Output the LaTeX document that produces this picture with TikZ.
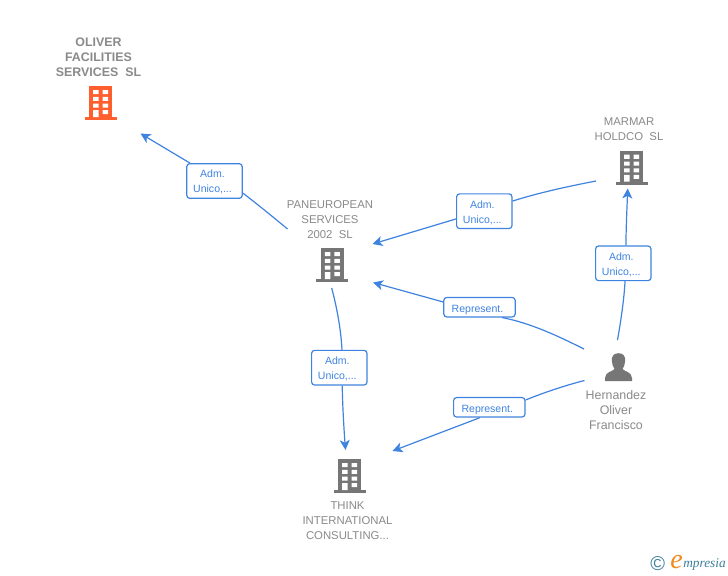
\documentclass[tikz,border=0pt]{standalone}
\usepackage{fontspec}
\setmainfont{Liberation Sans}
\newfontfamily\logofont{Liberation Serif}
\usetikzlibrary{arrows.meta,backgrounds}
\definecolor{linkblue}{HTML}{3F83E0}
\definecolor{labelgrey}{HTML}{8A8A8A}
\definecolor{icongrey}{HTML}{767676}
\definecolor{iconorange}{HTML}{FF5F2E}
\definecolor{logoteal}{HTML}{3F7F9A}
\definecolor{logoorange}{HTML}{F08A1C}
\newcommand{\boxline}[1]{\raisebox{-1pt}[\height][\depth]{\hspace*{-3pt}#1}}
\newcommand{\repline}[1]{\raisebox{-2pt}[\height][\depth]{\hspace*{-3pt}#1}}
\tikzset{
  x=0.75pt,y=-0.75pt,
  linkbox/.style={draw=linkblue,fill=white,line width=0.9pt,rounded corners=2.2pt,inner sep=0pt,align=center,
    text=linkblue,font=\fontsize{7.9pt}{11.25pt}\selectfont},
  admbox/.style={linkbox,minimum width=41.5pt,minimum height=26pt},
  repbox/.style={linkbox,minimum width=53.5pt,minimum height=14.6pt},
  entity/.style={align=center,text=labelgrey,inner sep=0pt,font=\fontsize{8.5pt}{11.25pt}\selectfont},
  company/.style={entity,font=\fontsize{9.3pt}{11.25pt}\selectfont\bfseries},
  person/.style={entity,font=\fontsize{9.3pt}{11.25pt}\selectfont},
  link/.style={draw=linkblue,line width=0.9pt},
  linkarrow/.style={link,-{Stealth[length=7.5pt,width=7.5pt,inset=2pt]}}
}
\newcommand{\buildingicon}[4]{% name, cx, top, colour
  \begin{scope}[shift={(#2,#3)}]
    \coordinate (#1) at (0,15);
    \fill[#4] (-11.3,0) rectangle (11.3,31.5);
    \fill[#4] (-16,31) rectangle (16,34);
    \fill[white] (-7.5,4) rectangle (-2,8.2) (2,4) rectangle (7.5,8.2)
      (-7.5,10.8) rectangle (-2,14.8) (2,10.8) rectangle (7.5,14.8)
      (-7.5,17.6) rectangle (-2,21.6) (2,17.6) rectangle (7.5,21.6)
      (-7.5,24.2) rectangle (-2,31) (2,24.2) rectangle (7.5,28.2);
  \end{scope}}
\begin{document}
\begin{tikzpicture}
\useasboundingbox (0,0) rectangle (728,575);
\begin{pgfonlayer}{background}
  \fill[white] (0,0) rectangle (728,575);
\end{pgfonlayer}

% entities
\node[company] (oliver) at (98.5,57.5) {OLIVER\\FACILITIES\\SERVICES\ \ SL};
\node[entity] (marmar) at (629,129.5) {MARMAR\\HOLDCO\ \ SL};
\node[entity] (pan) at (330,219.5) {PANEUROPEAN\\SERVICES\\2002\ \ SL};
\node[entity] (think) at (347.5,520.5) {THINK\\INTERNATIONAL\\CONSULTING...};
\node[person] (hern) at (616,410) {Hernandez\\Oliver\\Francisco};

\buildingicon{iconoliver}{100.5}{86}{iconorange}
\buildingicon{iconpan}{332.4}{248}{icongrey}
\buildingicon{iconmarmar}{631.7}{150.7}{icongrey}
\buildingicon{iconthink}{349.5}{459}{icongrey}

% person icon
\fill[icongrey] (618.5,353.2) .. controls (613.5,353.2) and (611.6,356.5) .. (611.8,360.5)
  .. controls (612,364) and (613,367) .. (614.5,369)
  .. controls (612,372) and (605.5,371.5) .. (605,378) -- (605,381) -- (632,381) -- (632,378)
  .. controls (631.5,371.5) and (625,372) .. (622.5,369)
  .. controls (624,367) and (625,364) .. (625.2,360.5)
  .. controls (625.4,356.5) and (623.5,353.2) .. (618.5,353.2) -- cycle;

% relation labels
\node[admbox] (b1) at (214.5,181) {\boxline{Adm.}\\\boxline{Unico,...}};
\node[admbox] (b2) at (484.3,211.2) {\boxline{Adm.}\\\boxline{Unico,...}};
\node[repbox] (b3) at (479.5,307.2) {\repline{Represent.}};
\node[admbox] (b4) at (339.3,367.7) {\boxline{Adm.}\\\boxline{Unico,...}};
\node[admbox] (b5) at (623.3,263.3) {\boxline{Adm.}\\\boxline{Unico,...}};
\node[repbox] (b6) at (489.3,407.3) {\repline{Represent.}};

% free ends
\coordinate (s1) at (287.5,229);
\coordinate (e1) at (140.5,133.5);
\coordinate (s2) at (596,181);
\coordinate (e2) at (372.5,244);
\coordinate (s3) at (584,349);
\coordinate (e3) at (373,282.5);
\coordinate (s4) at (331.7,288);
\coordinate (e4) at (345.5,450);
\coordinate (s5) at (617.5,340);
\coordinate (e5) at (627.7,188.5);
\coordinate (s6) at (584.5,380.5);
\coordinate (e6) at (392.5,451);

\begin{pgfonlayer}{background}
  \draw[link] (s1) .. controls (272,216) and (257,204) .. ([yshift=-9pt]b1.east);
  \draw[linkarrow] ([xshift=-18.4pt]b1.north) .. controls (173,153) and (158,144) .. (e1);
  \draw[link] (s2) .. controls (565,187) and (538,193) .. ([yshift=7.6pt]b2.east);
  \draw[linkarrow] ([yshift=-5.8pt]b2.west) -- (e2);
  \draw[link] (s3) .. controls (556,335) and (530,323) .. ([xshift=16.9pt]b3.south);
  \draw[linkarrow] ([yshift=3.9pt]b3.west) -- (e3);
  \draw[link] (s4) .. controls (337,308) and (341,330) .. ([xshift=2pt]b4.north);
  \draw[linkarrow] ([xshift=2.2pt]b4.south) .. controls (342.5,405) and (344,430) .. (e4);
  \draw[link] (s5) .. controls (621,320) and (624,300) .. ([xshift=1.3pt]b5.south);
  \draw[linkarrow] ([xshift=2pt]b5.north) .. controls (626,228) and (627,208) .. (e5);
  \draw[link] (s6) .. controls (563,386) and (543,393) .. ([yshift=5.5pt]b6.east);
  \draw[linkarrow] ([xshift=-7pt]b6.south) -- (e6);
\end{pgfonlayer}

% logo
\node[text=logoteal,inner sep=0pt,font=\fontsize{15pt}{16pt}\selectfont] (copy) at (657.8,563.5) {©};
\node[text=logoorange,inner sep=0pt,anchor=base west,font=\logofont\itshape\fontsize{21pt}{22pt}\selectfont] (logoe) at (670,568) {e};
\node[text=logoteal,inner sep=0pt,anchor=base west,font=\logofont\itshape\fontsize{10pt}{11pt}\selectfont] (logotext) at (683,567.5) {mpresia};
\end{tikzpicture}
\end{document}
